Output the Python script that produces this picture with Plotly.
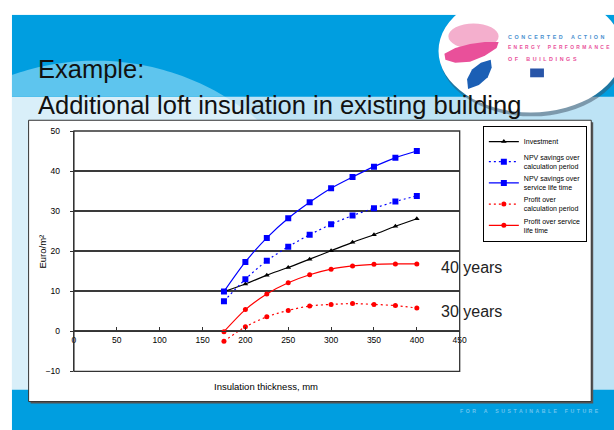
import numpy as np
import plotly.graph_objects as go

# insulation thickness (mm) and the five series (Euro/m2)
thickness = [175, 200, 225, 250, 275, 300, 325, 350, 375, 400]
investment = [9.9, 11.8, 14.0, 15.9, 18.0, 20.1, 22.2, 24.1, 26.2, 28.1]
npv_calc = [7.5, 13.0, 17.6, 21.1, 24.1, 26.7, 28.9, 30.7, 32.4, 33.8]
npv_life = [9.9, 17.3, 23.3, 28.2, 32.2, 35.7, 38.5, 41.1, 43.3, 45.0]
profit_calc = [-2.5, 1.1, 3.6, 5.2, 6.3, 6.7, 6.9, 6.7, 6.4, 5.8]
profit_life = [-0.1, 5.4, 9.3, 12.1, 14.1, 15.5, 16.3, 16.7, 16.8, 16.8]

x_ticks = [0, 50, 100, 150, 200, 250, 300, 350, 400, 450]
y_ticks = [-10, 0, 10, 20, 30, 40, 50]

W, H = 614, 430
FONT = "Arial, Liberation Sans, sans-serif"


def fx(px):
    return px / W


def fy(py):
    return 1 - py / H


def poly_path(pts):
    return "M " + " L ".join(f"{fx(a):.5f},{fy(b):.5f}" for a, b in pts) + " Z"


def spaced(s, gap="\u00a0\u2009"):
    # letter-spaced logo text
    return gap.join("\u00a0\u00a0" if c == " " else c for c in s)


fig = go.Figure()

series = [
    ("Investment", investment, "black", "solid", "triangle-up", 5),
    ("NPV savings over<br>calculation period", npv_calc, "#0000ff", "2px,3px", "square", 6),
    ("NPV savings over<br>service life time", npv_life, "#0000ff", "solid", "square", 6),
    ("Profit over<br>calculation period", profit_calc, "#ff0000", "2px,3px", "circle", 5),
    ("Profit over service<br>life time", profit_life, "#ff0000", "solid", "circle", 5),
]
for name, vals, col, dash, sym, ms in series:
    fig.add_trace(go.Scatter(
        x=thickness, y=vals, name=name, mode="lines+markers",
        line=dict(color=col, width=1.2, dash=dash, shape="spline", smoothing=0.8),
        marker=dict(color=col, symbol=sym, size=ms),
    ))

# ---- slide background ----
shapes = []
shapes.append(dict(type="rect", xref="paper", yref="paper", x0=fx(10), x1=1.02,
                   y0=-0.02, y1=fy(10), fillcolor="#bde3f5", line_width=0, layer="below"))
# big light circle
cx, cy, r = 95, 310, 253
ang = np.linspace(0, 2 * np.pi, 120)
circ = [(cx + r * np.cos(a), cy + r * np.sin(a)) for a in ang]
shapes.append(dict(type="path", xref="paper", yref="paper", path=poly_path(circ),
                   fillcolor="#d9eff9", line_width=0, layer="below"))
# top banner
shapes.append(dict(type="rect", xref="paper", yref="paper", x0=fx(10), x1=1.02,
                   y0=fy(94), y1=fy(10), fillcolor="#009ee0", line_width=0, layer="below"))
# circle part inside banner
pts = []
for a in np.linspace(np.pi, 2 * np.pi, 200):
    px, py = cx + r * np.cos(a), cy + r * np.sin(a)
    if py <= 94 and px >= 10:
        pts.append((px, py))
pts = [(10, 94), (10, pts[0][1])] + pts + [(pts[-1][0], 94)]
shapes.append(dict(type="path", xref="paper", yref="paper", path=poly_path(pts),
                   fillcolor="#5ec5ee", line_width=0, layer="below"))
# bottom band
shapes.append(dict(type="rect", xref="paper", yref="paper", x0=fx(10), x1=1.02,
                   y0=-0.02, y1=fy(394), fillcolor="#009ee0", line_width=0, layer="below"))
# white page edges
shapes.append(dict(type="rect", xref="paper", yref="paper", x0=-0.02, x1=fx(10),
                   y0=-0.02, y1=1.02, fillcolor="white", line_width=0, layer="below"))
# logo ellipse with shadow
shapes.append(dict(type="circle", xref="paper", yref="paper", x0=fx(444), x1=fx(632),
                   y0=fy(114), y1=fy(-14), fillcolor="rgba(60,80,100,0.5)", line_width=0, layer="below"))
shapes.append(dict(type="circle", xref="paper", yref="paper", x0=fx(443), x1=fx(630),
                   y0=fy(110), y1=fy(-16), fillcolor="white", line_width=0, layer="below"))
shapes.append(dict(type="rect", xref="paper", yref="paper", x0=-0.02, x1=1.02,
                   y0=fy(10), y1=1.02, fillcolor="white", line_width=0, layer="below"))
# logo marks
shapes.append(dict(type="circle", xref="paper", yref="paper", x0=fx(453), x1=fx(504),
                   y0=fy(45), y1=fy(19), fillcolor="#f4afcd", line_width=0, layer="below"))
pink = [(449, 50), (460, 44), (475, 40), (490, 38), (504, 38), (502, 44), (490, 52),
        (475, 58), (460, 59), (450, 56)]
shapes.append(dict(type="path", xref="paper", yref="paper", path=poly_path(pink),
                   fillcolor="#e9509a", line_width=0, layer="below"))
leaf = [(473, 86), (472, 76), (477, 66), (486, 59), (496, 56), (497, 64), (493, 74),
        (484, 82)]
shapes.append(dict(type="path", xref="paper", yref="paper", path=poly_path(leaf),
                   fillcolor="#1b5fb5", line_width=0, layer="below"))
shapes.append(dict(type="rect", xref="paper", yref="paper", x0=fx(536), x1=fx(550),
                   y0=fy(74), y1=fy(65), fillcolor="#2855a8", line_width=0, layer="below"))
# chart box with shadow
shapes.append(dict(type="rect", xref="paper", yref="paper", x0=fx(29), x1=fx(600),
                   y0=fy(408), y1=fy(120), fillcolor="#555555", line_width=0, layer="below"))
shapes.append(dict(type="rect", xref="paper", yref="paper", x0=fx(27), x1=fx(598),
                   y0=fy(406), y1=fy(118), fillcolor="white",
                   line=dict(color="#333333", width=1), layer="below"))
# plot frame
shapes.append(dict(type="rect", xref="x domain", yref="y domain", x0=0, x1=1, y0=0, y1=1,
                   line=dict(color="#333333", width=1.3), layer="above"))


def note(text, px, py, size, color, xanchor="left", **kw):
    return dict(text=text, x=fx(px), y=fy(py), xref="paper", yref="paper",
                xanchor=xanchor, yanchor="middle", showarrow=False,
                font=dict(size=size, color=color), **kw)


annotations = [
    note("Example:", 34, 66, 25.5, "#111111"),
    note("Additional loft insulation in existing building", 34, 102, 25.5, "#111111"),
    note("<b>" + spaced("CONCERTED ACTION") + "</b>", 512, 33, 5.4, "#4a90cf"),
    note("<b>" + spaced("ENERGY PERFORMANCE") + "</b>", 512, 44, 4.9, "#e9509a"),
    note("<b>" + spaced("OF BUILDINGS") + "</b>", 512, 55, 5.4, "#e9509a"),
    note("<b>" + spaced("FOR A SUSTAINABLE FUTURE") + "</b>", 463, 416, 5.2,
         "#6cc4ee"),
    note("Insulation thickness, mm", 268, 391, 9.5, "black", xanchor="center"),
    note("Euro/m²", 41, 252, 9.5, "black", xanchor="center", textangle=-90),
    note("40 years", 443, 269, 16, "#222222"),
    note("30 years", 443, 314, 16, "#222222"),
]

fig.update_layout(
    autosize=True,
    margin=dict(l=0, r=0, t=0, b=0),
    paper_bgcolor="white",
    plot_bgcolor="rgba(0,0,0,0)",
    font=dict(family=FONT, color="black"),
    shapes=shapes,
    annotations=annotations,
    legend=dict(x=fx(488), y=fy(124), xanchor="left", yanchor="top",
                bgcolor="white", bordercolor="black", borderwidth=1,
                font=dict(size=7, color="black"), itemwidth=30,
                tracegroupgap=0),
)
fig.update_xaxes(
    range=[0, 450], domain=[fx(73), fx(464.5)], anchor="free", position=fy(334),
    tickvals=x_ticks, ticks="inside", ticklen=4, tickcolor="#333333",
    showline=True, linecolor="#333333", linewidth=1.3,
    showgrid=False, zeroline=False, tickfont=dict(size=8.5, color="black"),
)
fig.update_yaxes(
    range=[-10, 50], domain=[fy(375), fy(129)],
    tickvals=y_ticks, ticks="outside", ticklen=3, tickcolor="#333333",
    ticklabelstandoff=8,
    showline=True, linecolor="#333333", linewidth=1.3,
    showgrid=True, gridcolor="#3a3a3a", gridwidth=1.5,
    zeroline=False, tickfont=dict(size=8.5, color="black"),
)

# fill the browser window exactly, pinned to the top-left corner
pin = (
    "document.documentElement.style.overflow='hidden';"
    "document.body.style.margin='0';"
    "document.body.style.overflow='hidden';"
    "var g=document.getElementById('{plot_id}');"
    "g.style.position='fixed';g.style.left='0px';g.style.top='0px';"
    "g.style.width='100vw';g.style.height='100vh';"
    "Plotly.Plots.resize(g);"
)
fig.write_html("out.html", config={"displayModeBar": False, "responsive": True},
               default_width="100vw", default_height="100vh", post_script=pin)
